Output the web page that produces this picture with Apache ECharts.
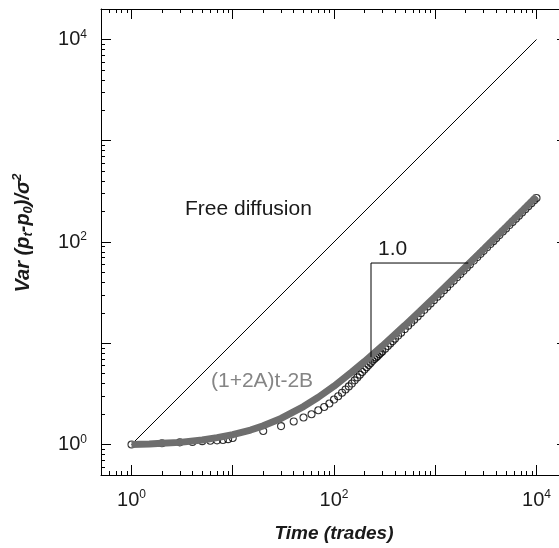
<!DOCTYPE html>
<html>
<head>
<meta charset="utf-8">
<title>Var (p_t - p_0)</title>
<style>
html, body { margin: 0; padding: 0; background: #fff; }
#container { width: 559px; height: 548px; }
</style>
<script src="https://cdn.jsdelivr.net/npm/echarts@6.0.0/dist/echarts.min.js"></script>
</head>
<body>
<div id="container"></div>
<script>
// free diffusion: Var = t
var freeT = [1, 10000];
var freeVar = [1, 10000];

// grey curve (1+2A)t-2B
var fitT = [1, 1.5, 2, 3, 5, 7, 10, 15, 20, 30, 50, 70, 100, 150, 200, 300, 500, 700, 1000, 2000, 3000, 5000, 7000, 10000];
var fitVar = [1.0, 1.01, 1.03, 1.05, 1.11, 1.17, 1.25, 1.39, 1.53, 1.81, 2.37, 2.93, 3.77, 5.2, 6.6, 9.4, 15.0, 20.6, 29, 57, 85, 141, 197, 281];

// open circles (measured)
var obsT = [1, 2, 3, 4, 5, 6, 7, 8, 9, 10,
    20, 30, 40, 50, 60, 70, 80, 90, 100,
    110, 120, 130, 140, 150, 160, 170, 180, 190, 200,
    210, 220, 230, 240, 250, 260, 270, 280, 290, 300,
    320, 340, 360, 380, 400, 430, 460, 500, 540, 580, 620, 670, 720, 780, 840, 900, 970,
    1050, 1130, 1220, 1310, 1410, 1520, 1640, 1770, 1900, 2050, 2200, 2400, 2600, 2800,
    3000, 3250, 3500, 3750, 4000, 4300, 4650, 5000, 5400, 5800, 6250, 6700, 7200, 7750,
    8300, 8900, 9500, 10000];
var obsVar = [1.0, 1.03, 1.05, 1.06, 1.08, 1.09, 1.10, 1.11, 1.13, 1.16,
    1.36, 1.52, 1.69, 1.85, 1.99, 2.18, 2.35, 2.54, 2.78,
    3.0, 3.25, 3.5, 3.75, 4.0, 4.3, 4.6, 4.9, 5.2, 5.5,
    5.8, 6.1, 6.4, 6.7, 7.0, 7.25, 7.5, 7.8, 8.05, 8.3,
    8.85, 9.4, 9.95, 10.5, 11.1, 11.9, 12.7, 13.8, 14.9, 16.0, 17.1, 18.4, 19.8, 21.4, 23.1, 24.7, 26.6,
    28.8, 30.9, 33.4, 35.8, 38.6, 41.5, 44.8, 48.3, 51.9, 56.0, 60.1, 65.5, 70.9, 76.4,
    81.8, 88.6, 95.4, 102, 109, 117, 127, 136, 147, 158, 170, 182, 196, 211,
    226, 242, 259, 272];

// slope triangle "1.0"
var slopeT = [232, 232, 2120];
var slopeVar = [7.3, 62, 62];

// ticks and labels
var majorTicks = [1, 10, 100, 1000, 10000];
var minorTicks = [0.6, 0.7, 0.8, 0.9,
    2, 3, 4, 5, 6, 7, 8, 9,
    20, 30, 40, 50, 60, 70, 80, 90,
    200, 300, 400, 500, 600, 700, 800, 900,
    2000, 3000, 4000, 5000, 6000, 7000, 8000, 9000];
var labelTicks = [1, 100, 10000];

var FONT = '"Liberation Sans", Arial, sans-serif';

function pairs(xs, ys) {
    return xs.map(function (x, i) { return [x, ys[i]]; });
}

function powLabel(v) {
    var e = Math.round(Math.log(v) / Math.LN10);
    return '10{s|' + e + '}';
}

function logAxis(pos, showLabel, ticks, tickLen, showLine) {
    return {
        type: 'log',
        logBase: 10,
        position: pos,
        min: 0.5,
        max: 20000,
        axisLine: { show: showLine, onZero: false, lineStyle: { color: '#000', width: 1 } },
        axisTick: { show: true, inside: true, length: tickLen, customValues: ticks, lineStyle: { color: '#000', width: 1 } },
        minorTick: { show: false },
        splitLine: { show: false },
        minorSplitLine: { show: false },
        axisLabel: {
            show: showLabel,
            customValues: labelTicks,
            formatter: powLabel,
            margin: 14,
            fontSize: 20,
            lineHeight: 22,
            fontFamily: FONT,
            color: '#1a1a1a',
            rich: {
                s: { fontSize: 12, lineHeight: 12, verticalAlign: 'top', fontFamily: FONT, color: '#1a1a1a' }
            }
        }
    };
}

var dom = document.getElementById("container");
var myChart = echarts.init(dom, null, { renderer: 'canvas' });
var option = null;

var xBottom = logAxis('bottom', true, majorTicks, 10, true);
xBottom.name = 'Time (trades)';
xBottom.nameLocation = 'middle';
xBottom.nameGap = 49;
xBottom.nameTextStyle = { fontSize: 19, fontWeight: 'bold', fontStyle: 'italic', fontFamily: FONT, color: '#1a1a1a' };

var yLeft = logAxis('left', true, majorTicks, 10, true);
yLeft.name = 'Var (p{sub|t}-p{sub|0})/σ{sup|2}';
yLeft.nameLocation = 'middle';
yLeft.nameGap = 66;
yLeft.nameRotate = 90;
yLeft.nameTextStyle = {
    fontSize: 20, fontWeight: 'bold', fontStyle: 'italic', fontFamily: FONT, color: '#1a1a1a',
    lineHeight: 24, padding: [0, 0, 0, 18],
    rich: {
        sub: { fontSize: 13, lineHeight: 13, fontWeight: 'bold', fontStyle: 'italic', fontFamily: FONT, color: '#1a1a1a', verticalAlign: 'bottom' },
        sup: { fontSize: 13, lineHeight: 13, fontWeight: 'bold', fontStyle: 'italic', fontFamily: FONT, color: '#1a1a1a', verticalAlign: 'top' }
    }
};

option = {
    backgroundColor: '#fff',
    animation: false,
    grid: { left: 101, top: 9, width: 466, height: 466, containLabel: false, outerBoundsMode: 'none' },
    // major ticks, then minor ticks on each side of the box
    xAxis: [
        xBottom,
        logAxis('top', false, majorTicks, 10, true),
        logAxis('bottom', false, minorTicks, 4, false),
        logAxis('top', false, minorTicks, 4, false)
    ],
    yAxis: [
        yLeft,
        logAxis('right', false, majorTicks, 10, true),
        logAxis('left', false, minorTicks, 4, false),
        logAxis('right', false, minorTicks, 4, false)
    ],
    graphic: [
        { type: 'text', x: 185, y: 209, style: { text: 'Free diffusion', fontSize: 21, fontFamily: FONT, fill: '#1a1a1a', align: 'left', verticalAlign: 'middle' } },
        { type: 'text', x: 211, y: 381, style: { text: '(1+2A)t-2B', fontSize: 21, fontFamily: FONT, fill: '#858585', align: 'left', verticalAlign: 'middle' } },
        { type: 'text', x: 378, y: 249, style: { text: '1.0', fontSize: 21, fontFamily: FONT, fill: '#1a1a1a', align: 'left', verticalAlign: 'middle' } }
    ],
    series: [
        {
            name: 'free',
            type: 'line',
            data: pairs(freeT, freeVar),
            symbol: 'none',
            silent: true,
            z: 2,
            lineStyle: { color: '#000', width: 1 }
        },
        {
            name: 'obs',
            type: 'scatter',
            data: pairs(obsT, obsVar),
            symbol: 'circle',
            symbolSize: 7,
            silent: true,
            z: 3,
            itemStyle: { color: 'rgba(0,0,0,0)', borderColor: '#000', borderWidth: 1.1 }
        },
        {
            name: 'fit',
            type: 'line',
            data: pairs(fitT, fitVar),
            symbol: 'none',
            silent: true,
            z: 4,
            lineStyle: { color: '#6e6e6e', width: 7, cap: 'butt' }
        },
        {
            name: 'slope',
            type: 'line',
            data: pairs(slopeT, slopeVar),
            symbol: 'none',
            silent: true,
            z: 5,
            lineStyle: { color: '#000', width: 1 }
        }
    ]
};
if (option && typeof option === "object") {
    myChart.setOption(option, true);
}
</script>
</body>
</html>
